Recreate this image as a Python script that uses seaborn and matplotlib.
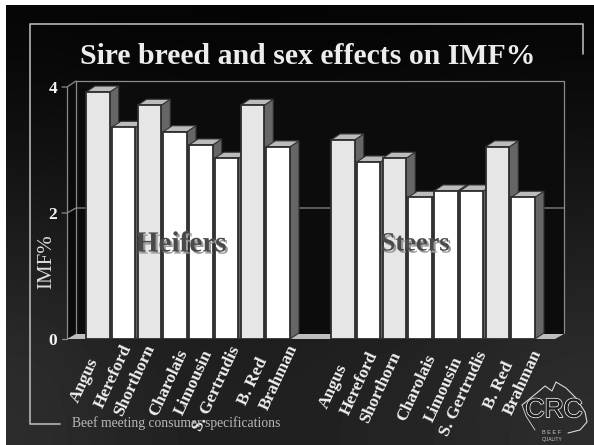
import numpy as np
import pandas as pd
import matplotlib
matplotlib.use("Agg")
import matplotlib.pyplot as plt
import matplotlib.patheffects as pe
from matplotlib.patches import Polygon, Rectangle
from matplotlib.transforms import ScaledTranslation
import seaborn as sns

# Intramuscular fat by sire breed
breeds = ["Angus", "Hereford", "Shorthorn", "Charolais", "Limousin",
          "S. Gertrudis", "B. Red", "Brahman"]
heifers = [3.92, 3.36, 3.71, 3.29, 3.08, 2.87, 3.71, 3.05]
steers = [3.16, 2.81, 2.87, 2.25, 2.35, 2.35, 3.05, 2.25]
heifer_fill = ["#e6e6e6", "#ffffff", "#e6e6e6", "#ffffff",
               "#ffffff", "#ffffff", "#e6e6e6", "#ffffff"]
steer_fill = ["#e6e6e6", "#ffffff", "#e6e6e6", "#ffffff",
              "#ffffff", "#ffffff", "#e6e6e6", "#ffffff"]
y_ticks = [0, 2, 4]

# Nudges (px) of the slanted breed labels away from their default anchor
heifer_nudge = [(-11, -9), (-3, 4), (-6, 4), (1, -1), (1, -1), (2, 2), (4, -9), (8, 4)]
steer_nudge = [(-7, -15), (-2, -3), (-5, -3), (4, -6), (6, -8), (4, -3), (5, -13), (7, -1)]

W, H = 594, 445
DX, DY = 9, 6  # oblique depth of the bars, px
SERIF = "Liberation Serif"

sns.set_theme(style="white")
plt.rcParams["font.family"] = [SERIF, "DejaVu Serif"]

fig = plt.figure(figsize=(W / 100, H / 100), dpi=100, facecolor="white")


def px_axes(zorder):
    ax = fig.add_axes([0, 0, 1, 1], zorder=zorder)
    ax.set_xlim(0, W)
    ax.set_ylim(H, 0)
    ax.axis("off")
    return ax


# Slide background, frame and the empty 3D box behind the bars
bg = px_axes(0)
grad = np.array([0.02, 0.04, 0.06, 0.085, 0.11, 0.135, 0.14]).reshape(-1, 1)
side = np.array([1.25, 1.0, 0.9, 0.9, 1.0, 1.1, 1.25]).reshape(1, -1)
bg.imshow(grad * side, cmap="gray", vmin=0, vmax=1, extent=(6, W, H, 5),
          aspect="auto", interpolation="bicubic", zorder=0)
bg.set_xlim(0, W)
bg.set_ylim(H, 0)

frame = "#b4b4b4"
bg.plot([60, 30, 30, 583, 583], [424, 424, 24, 24, 54], color=frame, lw=1.2, zorder=1)
bg.add_patch(Rectangle((76, 81), 488, 254, fc="#0c0c0c", ec="none", zorder=1))
bg.add_patch(Polygon([(67, 87), (76, 81), (76, 333), (67, 339)], fc="#0a0a0a", ec="none", zorder=1))
wall = "#8a8a8a"
bg.plot([76, 564, 564], [81, 81, 333], color=wall, lw=0.9, zorder=2)
bg.plot([76, 76], [81, 333], color=wall, lw=0.9, zorder=2)
bg.plot([67, 67], [87, 339], color=wall, lw=0.9, zorder=2)
bg.plot([62, 67, 76], [87, 87, 81], color=wall, lw=0.9, zorder=2)
bg.plot([62, 67, 76, 564], [213, 213, 208, 208], color=wall, lw=0.9, zorder=2)
bg.add_patch(Polygon([(67, 339), (76, 334), (564, 334), (555, 339)], fc="#bdbdbd", ec="none", zorder=2))
bg.plot([62, 67], [339, 339], color=wall, lw=0.9, zorder=2)


def draw_group(left, values, fills, nudges):
    ax = fig.add_axes([left / W, 1 - 339 / H, 206 / W, 252 / H], zorder=1)
    frame_df = pd.DataFrame({"breed": breeds, "imf": values})
    sns.barplot(data=frame_df, x="breed", y="imf", hue="breed", order=breeds,
                hue_order=breeds, palette=fills, width=0.92, legend=False,
                saturation=1, edgecolor="#2e2e2e", linewidth=1.3, ax=ax)
    ax.set_xlim(-0.5, 7.5)
    ax.set_ylim(0, 4)
    ax.patch.set_alpha(0)
    sns.despine(ax=ax, left=True, bottom=True)
    ax.set_xlabel("")
    ax.set_ylabel("")
    ax.set_yticks([])

    # Oblique top and side faces built from each bar's own rectangle
    dx = DX * 8 / 206
    dy = DY * 4 / 252
    bars = sorted(ax.patches, key=lambda b: b.get_x())
    for i, bar in enumerate(bars):
        x0, x1 = bar.get_x(), bar.get_x() + bar.get_width()
        h = bar.get_height()
        bar.set_zorder(10 + 2 * i + 1)
        ax.add_patch(Polygon([(x1, 0), (x1 + dx, dy), (x1 + dx, h + dy), (x1, h)],
                             fc="#666666", ec="#333333", lw=0.8,
                             zorder=10 + 2 * i, clip_on=False))
        ax.add_patch(Polygon([(x0, h), (x0 + dx, h + dy), (x1 + dx, h + dy), (x1, h)],
                             fc="#bcbcbc", ec="#333333", lw=0.8,
                             zorder=10 + 2 * i, clip_on=False))

    ax.tick_params(axis="x", length=0, pad=5)
    ax.set_xticks(range(len(breeds)))
    ax.set_xticklabels(breeds, rotation=65, ha="right", va="top",
                       rotation_mode="anchor", fontsize=12.5, fontweight="bold",
                       color="#f0f0f0", family=SERIF)
    for label, (nx, ny) in zip(ax.get_xticklabels(), nudges):
        label.set_transform(label.get_transform()
                            + ScaledTranslation(nx / 100, ny / 100, fig.dpi_scale_trans))
    return ax


ax_h = draw_group(85, heifers, heifer_fill, heifer_nudge)
ax_s = draw_group(330, steers, steer_fill, steer_nudge)

# Value axis lives on the first group
ax_h.set_yticks(y_ticks)
ax_h.set_yticklabels([str(t) for t in y_ticks], fontsize=12.5, fontweight="bold",
                     color="#f2f2f2", family=SERIF)
ax_h.tick_params(axis="y", length=0, pad=20)
ax_h.set_ylabel("IMF%", fontsize=15, color="#dcdcdc", family=SERIF)
ax_h.yaxis.set_label_coords((56 - 85) / 206, (339 - 262) / 252)

# Text and logo above everything else
top = px_axes(5)
top.text(308, 56, "Sire breed and sex effects on IMF%", ha="center", va="center",
         fontsize=21.4, fontweight="bold", color="#ececec")
top.text(72, 423, "Beef meeting consumer specifications", ha="left", va="center",
         fontsize=9.8, color="#b8b8b8")
for word, xc, size in (("Heifers", 181, 21), ("Steers", 415, 19)):
    top.text(xc, 244, word, ha="center", va="center", fontsize=size, fontweight="bold",
             color="#4a4a4a",
             path_effects=[pe.withSimplePatchShadow(offset=(1.5, -1.5),
                                                    shadow_rgbFace="#9a9a9a", alpha=1)])

top.text(554, 410, "CRC", ha="center", va="center", fontsize=19, color="#1f1f1f",
         family="Liberation Sans",
         path_effects=[pe.withStroke(linewidth=1.3, foreground="#f0f0f0"), pe.Normal()])
top.plot([522, 538, 545, 552, 556, 566, 576, 585, 587, 580, 568],
         [405, 392, 386, 391, 382, 388, 398, 412, 422, 430, 433],
         color="#d8d8d8", lw=0.8)
top.plot([522, 526, 535], [405, 416, 430], color="#d8d8d8", lw=0.6)
top.text(552, 432, "B E E F", ha="center", va="center", fontsize=4, color="#c8c8c8",
         family="Liberation Sans")
top.text(552, 439, "QUALITY", ha="center", va="center", fontsize=3.5, color="#c8c8c8",
         family="Liberation Sans")

fig.savefig("out.png", dpi=100, facecolor="white")
